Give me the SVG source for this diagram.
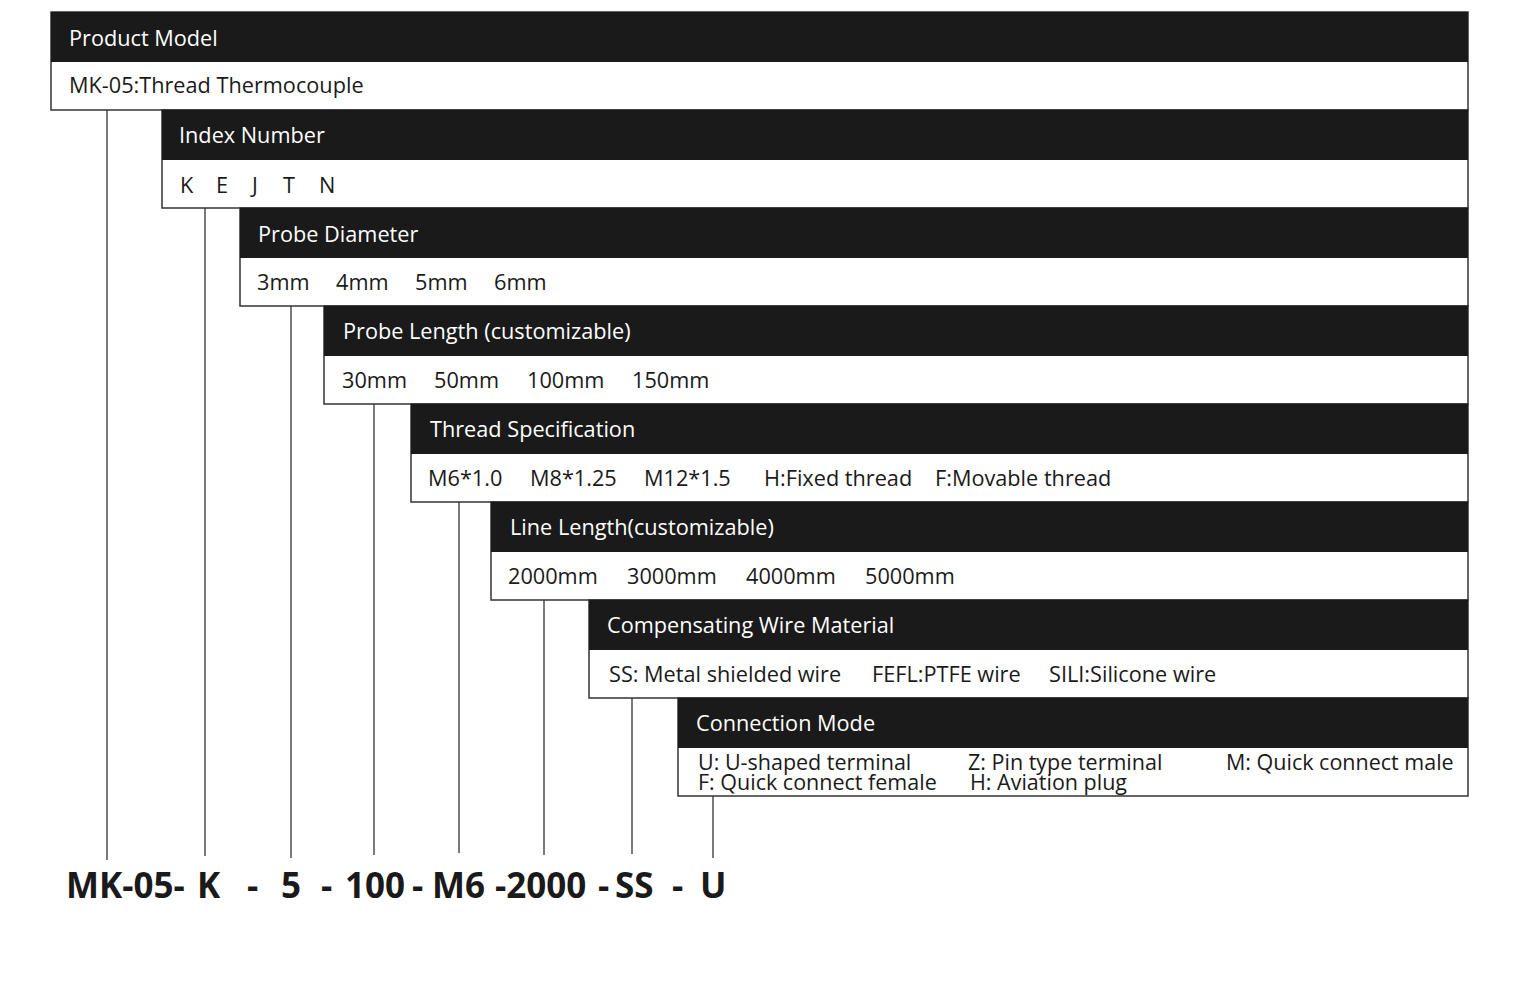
<svg xmlns="http://www.w3.org/2000/svg" width="1534" height="982" viewBox="0 0 1534 982">
<style>
.hd{fill:#1a1a1a}
.bx{fill:#fff;stroke:#333;stroke-width:1.5}
.ht{fill:#fff;font-family:"Open Sans","Noto Sans",sans-serif;font-size:21.7px}
.bt{fill:#1a1a1a;font-family:"Open Sans","Noto Sans",sans-serif;font-size:21.7px}
.ct{fill:#1a1a1a;font-family:"Open Sans","Noto Sans",sans-serif;font-size:21.5px}
.ln{stroke:#7a7a7a;stroke-width:2;fill:none}
.code{fill:#1a1a1a;font-family:"Open Sans","Noto Sans",sans-serif;font-size:35px;font-weight:700}
</style>
<rect width="1534" height="982" fill="#fff"/>
<g id="connectors">
<line class="ln" x1="107" y1="110" x2="107" y2="860"/>
<line class="ln" x1="205" y1="208" x2="205" y2="856"/>
<line class="ln" x1="291" y1="306" x2="291" y2="858"/>
<line class="ln" x1="374" y1="404" x2="374" y2="855"/>
<line class="ln" x1="459" y1="502" x2="459" y2="853"/>
<line class="ln" x1="544" y1="600" x2="544" y2="855"/>
<line class="ln" x1="632" y1="698" x2="632" y2="854"/>
<line class="ln" x1="713" y1="796" x2="713" y2="858"/>
</g>
<g id="product-model">
<rect class="bx" x="51" y="12" width="1417" height="98"/>
<rect class="hd" x="51" y="12" width="1417" height="50"/>
<text class="ht" x="69" y="46">Product Model</text>
<text class="bt" x="69" y="93">MK-05:Thread Thermocouple</text>
</g>
<g id="index-number">
<rect class="bx" x="162" y="110" width="1306" height="98"/>
<rect class="hd" x="162" y="110" width="1306" height="50"/>
<text class="ht" x="179" y="143">Index Number</text>
<text class="bt" y="193"><tspan x="180">K</tspan><tspan x="216">E</tspan><tspan x="252">J</tspan><tspan x="283">T</tspan><tspan x="319">N</tspan></text>
</g>
<g id="probe-diameter">
<rect class="bx" x="240" y="208" width="1228" height="98"/>
<rect class="hd" x="240" y="208" width="1228" height="50"/>
<text class="ht" x="258" y="242">Probe Diameter</text>
<text class="bt" y="290"><tspan x="257">3mm</tspan><tspan x="336">4mm</tspan><tspan x="415">5mm</tspan><tspan x="494">6mm</tspan></text>
</g>
<g id="probe-length">
<rect class="bx" x="324" y="306" width="1144" height="98"/>
<rect class="hd" x="324" y="306" width="1144" height="50"/>
<text class="ht" x="343" y="339">Probe Length (customizable)</text>
<text class="bt" y="388"><tspan x="342">30mm</tspan><tspan x="434">50mm</tspan><tspan x="527">100mm</tspan><tspan x="632">150mm</tspan></text>
</g>
<g id="thread-specification">
<rect class="bx" x="411" y="404" width="1057" height="98"/>
<rect class="hd" x="411" y="404" width="1057" height="50"/>
<text class="ht" x="430" y="437">Thread Specification</text>
<text class="bt" y="486"><tspan x="428">M6*1.0</tspan><tspan x="530">M8*1.25</tspan><tspan x="644">M12*1.5</tspan><tspan x="764">H:Fixed thread</tspan><tspan x="935">F:Movable thread</tspan></text>
</g>
<g id="line-length">
<rect class="bx" x="491" y="502" width="977" height="98"/>
<rect class="hd" x="491" y="502" width="977" height="50"/>
<text class="ht" x="510" y="535">Line Length(customizable)</text>
<text class="bt" y="584"><tspan x="508">2000mm</tspan><tspan x="627">3000mm</tspan><tspan x="746">4000mm</tspan><tspan x="865">5000mm</tspan></text>
</g>
<g id="compensating-wire">
<rect class="bx" x="589" y="600" width="879" height="98"/>
<rect class="hd" x="589" y="600" width="879" height="50"/>
<text class="ht" x="607" y="633">Compensating Wire Material</text>
<text class="bt" y="682"><tspan x="609">SS: Metal shielded wire</tspan><tspan x="872">FEFL:PTFE wire</tspan><tspan x="1049">SILI:Silicone wire</tspan></text>
</g>
<g id="connection-mode">
<rect class="bx" x="678" y="698" width="790" height="98"/>
<rect class="hd" x="678" y="698" width="790" height="50"/>
<text class="ht" x="696" y="731">Connection Mode</text>
<text class="ct" y="770"><tspan x="698">U: U-shaped terminal</tspan><tspan x="968">Z: Pin type terminal</tspan><tspan x="1226">M: Quick connect male</tspan></text>
<text class="ct" y="790"><tspan x="698">F: Quick connect female</tspan><tspan x="970">H: Aviation plug</tspan></text>
</g>
<g id="model-code">
<text class="code" y="898"><tspan x="66">MK-05-</tspan><tspan x="197">K</tspan><tspan x="247">-</tspan><tspan x="281">5</tspan><tspan x="321">-</tspan><tspan x="345">100</tspan><tspan x="412">-</tspan><tspan x="432">M6</tspan><tspan x="495">-2000</tspan><tspan x="598">-</tspan><tspan x="615">SS</tspan><tspan x="672">-</tspan><tspan x="700">U</tspan></text>
</g>
</svg>
